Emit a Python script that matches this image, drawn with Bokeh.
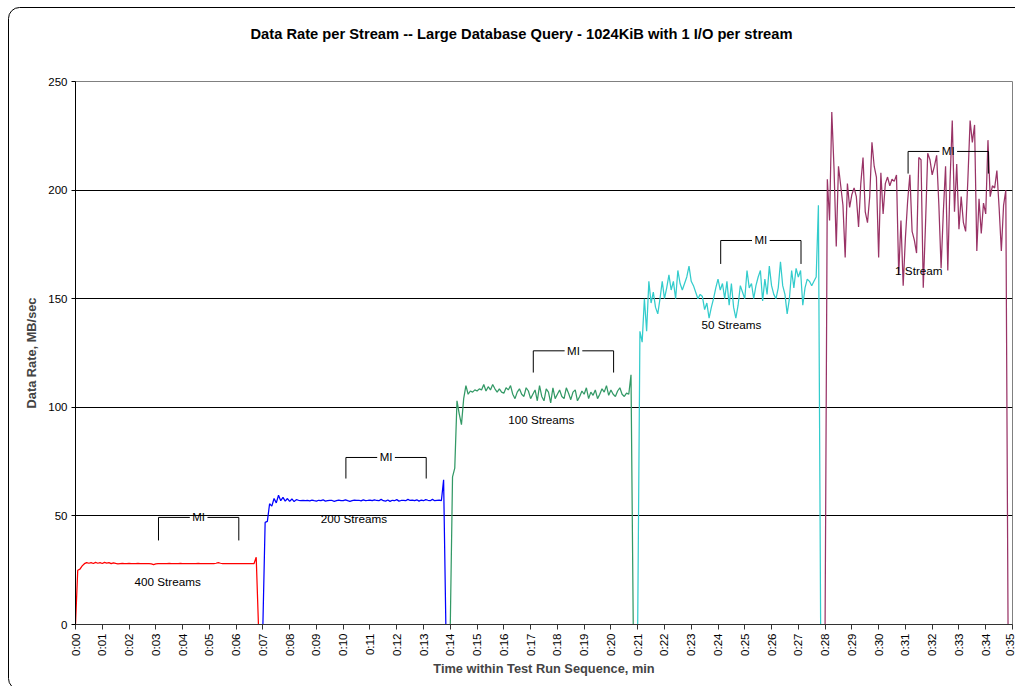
import math
import numpy as np
from bokeh.plotting import figure
from bokeh.models import FixedTicker, Range1d, Title
from bokeh.core.properties import value
from bokeh.embed import file_html
from bokeh.resources import INLINE

# ---------------- data ----------------
chart_title = "Data Rate per Stream -- Large Database Query - 1024KiB with 1 I/O per stream"
x_title = "Time within Test Run Sequence, min"
y_title = "Data Rate, MB/sec"

series_names = ["400 Streams", "200 Streams", "100 Streams", "50 Streams", "1 Stream"]
series_start_min = [0, 7, 14, 21, 28]
sample_interval_min = 5 / 60  # one sample every 5 seconds

rate_400 = [
    0, 25, 25.5, 27, 28, 28.5, 28.2, 28.5, 28.1, 28.6,
    28.2, 28.5, 28.1, 28.6, 28.3, 28.5, 28.0, 28.4, 28.1, 27.9,
    28.0, 28.1, 28.0, 28.0, 28.1, 28.0, 28.0, 28.0, 28.1, 28.0,
    28.0, 28.0, 28.0, 28.0, 27.9, 27.6, 27.9, 28.0, 28.0, 28.0,
    28.0, 28.0, 28.1, 28.0, 28.0, 28.0, 28.0, 28.1, 28.0, 28.0,
    28.0, 28.0, 28.0, 28.0, 28.0, 28.1, 28.0, 28.0, 28.0, 28.0,
    28.0, 28.0, 28.0, 28.2, 28.5, 28.2, 28.0, 28.0, 28.0, 28.0,
    28.0, 28.0, 28.0, 28.0, 28.0, 28.0, 28.0, 28.0, 28.0, 28.0,
    28.0, 31, 0,
]
rate_200 = [
    0, 47, 47.5, 55.6, 54.5, 58, 56, 59.5, 57, 58.5,
    56.8, 58, 56.7, 57.8, 56.6, 57.5, 57.2, 57.0, 57.2, 57.0,
    57.1, 56.9, 57.3, 57.0, 56.8, 57.2, 57.0, 57.4, 56.8, 57.0,
    57.2, 57.1, 56.7, 57.0, 57.3, 57.0, 57.0, 57.4, 57.0, 56.7,
    57.0, 57.3, 57.1, 57.2, 56.9, 57.4, 57.0, 57.1, 57.3, 57.0,
    57.4, 57.1, 57.0, 57.6, 57.0, 56.8, 57.3, 56.7, 57.2, 57.0,
    57.5, 56.8, 57.1, 57.2, 57.0, 57.6, 57.1, 57.3, 57.0, 57.4,
    56.8, 57.3, 57.0, 57.5, 57.2, 57.0, 57.6, 57.0, 57.2, 57.3,
    57.0, 66.6, 0,
]
rate_100 = [
    0, 68, 72, 103, 97, 92, 104, 110, 106, 107.5,
    107, 108, 107.5, 108.5, 108, 110.5, 107.5, 109.5, 108, 110.5,
    108.5, 107, 108.5, 107, 106.5, 109, 108, 110, 106, 104,
    107, 108.5, 106, 105, 109, 107.5, 104, 106, 108, 103,
    110, 105, 103, 108.5, 107, 102, 109, 104, 106, 108,
    105, 104, 109, 106.5, 103.5, 107, 108, 103, 105, 107.5,
    106, 109, 104, 107, 105.5, 108, 104, 106, 108.5, 107,
    110, 105.5, 108, 106, 105, 107.5, 109, 106, 105, 106.5,
    106, 115, 0,
]
rate_50 = [
    0, 135, 130, 150, 135, 158, 148, 153, 146, 143,
    150, 158, 150, 155, 161, 154, 158, 150, 163, 157,
    154, 157, 160, 165, 158, 156, 153, 150, 152, 151,
    145, 148, 141, 146, 150, 155, 159, 154, 157, 150,
    158, 147, 157, 146, 141, 147, 156, 153, 150, 163,
    155, 157, 150, 156, 160, 163, 149, 159, 152, 165,
    156, 152, 150, 155, 167, 156, 152, 143, 150, 163,
    155, 164, 160, 163, 147, 155, 159, 158, 156, 158,
    160, 193, 0,
]
rate_1 = [
    0, 205, 186, 236, 210, 174, 211, 202, 193, 169,
    203, 192, 198, 201, 197, 183, 203, 215, 190, 185,
    197, 222, 211, 206, 169, 208, 189, 203, 206, 202,
    205, 204, 207, 161, 186, 156, 178, 195, 207, 181,
    177, 171, 215, 214, 155, 184, 217, 214, 207, 211,
    216, 193, 164, 190, 211, 163, 204, 232, 190, 212,
    182, 197, 185, 181, 205, 232, 222, 230, 172, 196,
    180, 194, 189, 223, 197, 202, 201, 209, 192, 172,
    193, 200, 0,
]
series_values = [rate_400, rate_200, rate_100, rate_50, rate_1]

tick_minutes = list(range(0, 36))
tick_labels = ["0:%02d" % m for m in tick_minutes]
y_ticks = [0, 50, 100, 150, 200, 250]

# measurement-interval (MI) brackets, one per test
mi_start = [3.1, 10.1, 17.1, 24.1, 31.1]
mi_end = [6.1, 13.1, 20.1, 27.1, 34.1]
mi_top = [49.3, 76.9, 126.0, 176.8, 217.8]
mi_leg = [38.7, 67.2, 116.0, 166.0, 207.6]

# series caption placement
caption_x = [3.44, 10.4, 17.4, 24.5, 31.5]
caption_y = [19.8, 48.8, 94.4, 138.0, 163.0]

colors = ["#FF0000", "#0000FF", "#339966", "#33CCCC", "#993366"]
FONT = "Liberation Sans"

# ---------------- figure ----------------
p = figure(width=1015, height=686, title=None,
           x_range=Range1d(0, 35), y_range=Range1d(0, 250),
           output_backend="svg", toolbar_location=None,
           min_border_left=75, min_border_right=3,
           min_border_top=81, min_border_bottom=62)

frame_svg = ("data:image/svg+xml;utf8,<svg xmlns='http://www.w3.org/2000/svg' "
             "width='1015' height='686'><rect x='8.5' y='7.5' width='1200' height='682' "
             "rx='11' ry='11' fill='none' stroke='black' stroke-width='1'/></svg>")
p.styles = {"background-image": 'url("%s")' % frame_svg,
            "background-repeat": "no-repeat",
            "background-color": "white"}
p.background_fill_color = "white"
p.border_fill_alpha = 0
p.outline_line_color = "#808080"

# spacer between plot area and title (nearest to the frame)
p.add_layout(Title(text=" ", text_font_size="1px", standoff=13), "above")
# the chart title (outermost)
p.add_layout(Title(text=chart_title, align="left", offset=175, vertical_align="middle",
                   standoff=46, text_font=FONT, text_font_size="14.7px",
                   text_font_style="bold", text_color="black"), "above")

# grid
p.xgrid.visible = False
p.ygrid.ticker = FixedTicker(ticks=y_ticks)
p.ygrid.grid_line_color = "black"
p.ygrid.grid_line_width = 1

# axes
xa = p.xaxis[0]
xa.ticker = FixedTicker(ticks=tick_minutes)
xa.major_label_overrides = {m: l for m, l in zip(tick_minutes, tick_labels)}
xa.major_label_orientation = math.pi / 2
xa.major_label_text_font = FONT
xa.major_label_text_font_size = "11.5px"
xa.major_label_text_color = "black"
xa.major_label_standoff = 4
xa.major_tick_in = 0
xa.major_tick_out = 5
xa.minor_tick_line_color = None
xa.axis_line_color = "#333333"
xa.major_tick_line_color = "#333333"
xa.axis_label = x_title
xa.axis_label_text_font = FONT
xa.axis_label_text_font_size = "12.8px"
xa.axis_label_text_font_style = "bold"
xa.axis_label_standoff = 2

ya = p.yaxis[0]
ya.ticker = FixedTicker(ticks=y_ticks)
ya.major_label_text_font = FONT
ya.major_label_text_font_size = "11.5px"
ya.major_label_text_color = "black"
ya.major_label_standoff = 4
ya.major_tick_in = 0
ya.major_tick_out = 4
ya.minor_tick_line_color = None
ya.axis_line_color = "black"
ya.major_tick_line_color = "black"
ya.axis_label = y_title
ya.axis_label_text_font = FONT
ya.axis_label_text_font_size = "12.8px"
ya.axis_label_text_font_style = "bold"
ya.axis_label_standoff = 6

# series lines
for start, vals, col in zip(series_start_min, series_values, colors):
    xs = start + np.arange(len(vals)) * sample_interval_min
    p.line(xs, vals, line_color=col, line_width=1.25)

# MI brackets
gap = 0.33
for s, e, t, l in zip(mi_start, mi_end, mi_top, mi_leg):
    mid = (s + e) / 2
    p.line([s, s, mid - gap], [l, t, t], line_color="black", line_width=1)
    p.line([mid + gap, e, e], [t, t, l], line_color="black", line_width=1)
    p.text(x=[mid], y=[t], text=["MI"], text_align="center", text_baseline="middle",
           text_font=value(FONT), text_font_size="11.5px", text_color="black")

# captions
p.text(x=caption_x, y=caption_y, text=series_names, text_align="center",
       text_baseline="middle", text_font=value(FONT), text_font_size="11.7px",
       text_color="black")

open("out.html", "w").write(file_html(p, INLINE))
